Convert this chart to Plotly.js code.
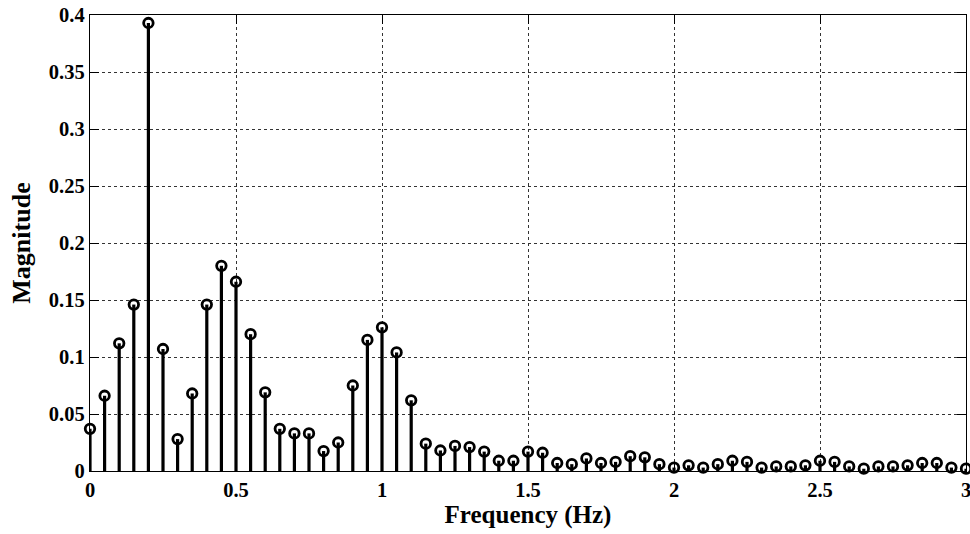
<!DOCTYPE html>
<html>
<head>
<meta charset="utf-8">
<script src="https://cdn.plot.ly/plotly-3.0.1.min.js"></script>
<style>html,body{margin:0;padding:0;background:#fff;}#chart{width:970px;height:534px;}</style>
</head>
<body>
<div id="chart"></div>
<script>
const frequency = [0,0.05,0.1,0.15,0.2,0.25,0.3,0.35,0.4,0.45,0.5,0.55,0.6,0.65,0.7,0.75,0.8,0.85,0.9,0.95,
  1.0,1.05,1.1,1.15,1.2,1.25,1.3,1.35,1.4,1.45,1.5,1.55,1.6,1.65,1.7,1.75,1.8,1.85,1.9,1.95,
  2.0,2.05,2.1,2.15,2.2,2.25,2.3,2.35,2.4,2.45,2.5,2.55,2.6,2.65,2.7,2.75,2.8,2.85,2.9,2.95,3.0];
const magnitude = [0.037,0.066,0.112,0.146,0.393,0.107,0.028,0.068,0.146,0.180,0.166,0.120,0.069,0.037,0.033,0.033,0.0175,0.025,0.075,0.115,
  0.126,0.104,0.062,0.024,0.018,0.022,0.021,0.017,0.009,0.009,0.017,0.016,0.007,0.006,0.011,0.007,0.008,0.013,0.012,0.006,
  0.003,0.005,0.003,0.006,0.009,0.008,0.003,0.004,0.004,0.005,0.009,0.008,0.004,0.002,0.004,0.004,0.005,0.007,0.007,0.003,0.002];
const xTickVals = [0,0.5,1,1.5,2,2.5,3];
const yTickVals = [0,0.05,0.1,0.15,0.2,0.25,0.3,0.35,0.4];

const stemX = [], stemY = [];
frequency.forEach((f,i)=>{ stemX.push(f,f,null); stemY.push(0,magnitude[i],null); });

const fontFam = '"Liberation Serif", "Times New Roman", serif';
const data = [
  {x: stemX, y: stemY, type:'scatter', mode:'lines', line:{color:'#000', width:3.2}, cliponaxis:false, hoverinfo:'skip', showlegend:false},
  {x: frequency, y: magnitude, type:'scatter', mode:'markers', cliponaxis:false, showlegend:false,
   marker:{symbol:'circle-open', size:9.5, color:'#000', line:{color:'#000', width:2.8}}}
];
const axisCommon = {
  showline:true, linecolor:'#000', linewidth:1.2, mirror:'ticks',
  ticks:'inside', ticklen:9, tickwidth:1, tickcolor:'#000',
  showgrid:true, gridcolor:'#333', gridwidth:1, griddash:'3px,3px',
  zeroline:false, ticklabeloverflow:'allow',
  tickfont:{family:fontFam, size:20.5, color:'#000', weight:'bold'}
};
const layout = {
  width:970, height:534,
  margin:{l:90, r:4, t:15, b:63},
  paper_bgcolor:'#fff', plot_bgcolor:'#fff',
  xaxis: Object.assign({}, axisCommon, {range:[0,3], tickvals:xTickVals, ticktext:xTickVals.map(String),
    title:{text:'Frequency (Hz)', font:{family:fontFam, size:25, color:'#000', weight:'bold'}, standoff:5}}),
  yaxis: Object.assign({}, axisCommon, {range:[0,0.4], tickvals:yTickVals, ticktext:yTickVals.map(String),
    title:{text:'Magnitude', font:{family:fontFam, size:26, color:'#000', weight:'bold'}, standoff:10}})
};
Plotly.newPlot('chart', data, layout, {staticPlot:true, displayModeBar:false});
</script>
</body>
</html>
